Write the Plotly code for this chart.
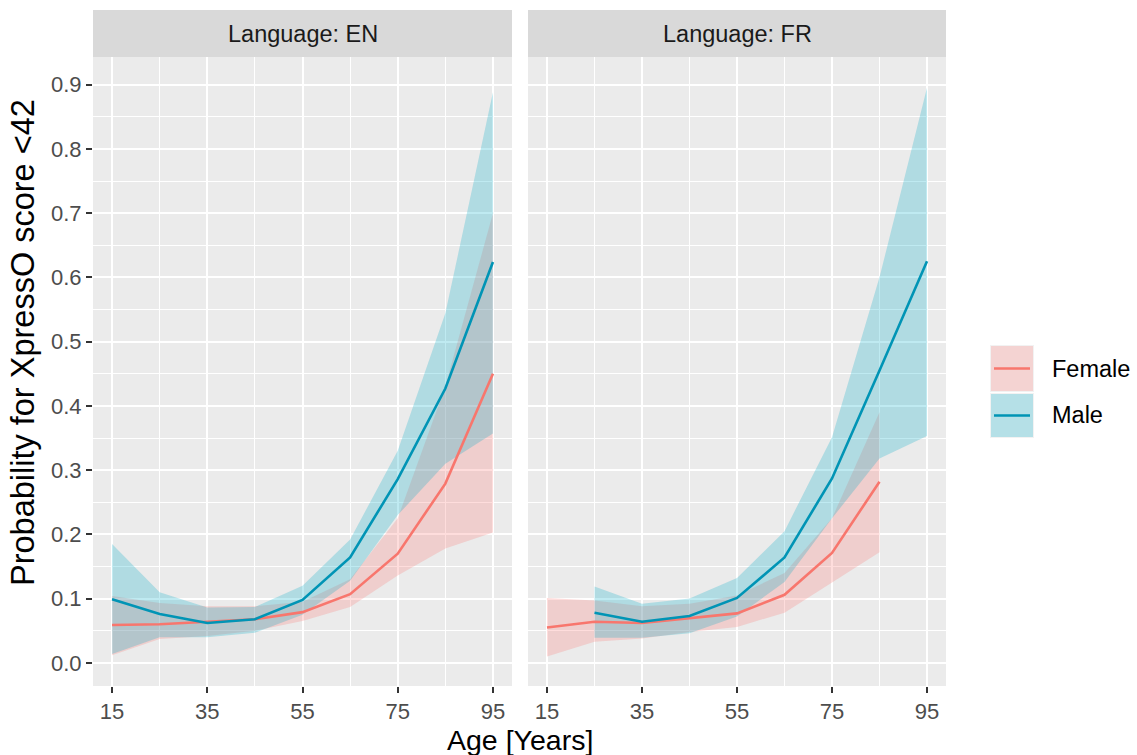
import plotly.graph_objects as go

W, H = 1137, 755

# ---------------- data ----------------
ages_en = [15, 25, 35, 45, 55, 65, 75, 85, 95]
en_female_fit = [0.059, 0.060, 0.064, 0.068, 0.079, 0.107, 0.170, 0.279, 0.450]
en_female_lo = [0.012, 0.037, 0.042, 0.050, 0.065, 0.087, 0.136, 0.178, 0.203]
en_female_hi = [0.104, 0.093, 0.088, 0.088, 0.095, 0.130, 0.225, 0.430, 0.700]
en_male_fit = [0.099, 0.076, 0.062, 0.068, 0.098, 0.164, 0.286, 0.427, 0.624]
en_male_lo = [0.014, 0.040, 0.040, 0.047, 0.075, 0.128, 0.230, 0.310, 0.357]
en_male_hi = [0.185, 0.110, 0.086, 0.087, 0.120, 0.192, 0.330, 0.544, 0.888]

ages_fr_female = [15, 25, 35, 45, 55, 65, 75, 85]
fr_female_fit = [0.055, 0.064, 0.062, 0.069, 0.077, 0.106, 0.171, 0.282]
fr_female_lo = [0.010, 0.033, 0.038, 0.048, 0.056, 0.078, 0.125, 0.172]
fr_female_hi = [0.101, 0.097, 0.088, 0.092, 0.105, 0.140, 0.225, 0.390]
ages_fr_male = [25, 35, 45, 55, 65, 75, 85, 95]
fr_male_fit = [0.078, 0.064, 0.073, 0.101, 0.164, 0.287, 0.455, 0.625]
fr_male_lo = [0.039, 0.039, 0.046, 0.072, 0.126, 0.225, 0.318, 0.353]
fr_male_hi = [0.119, 0.092, 0.100, 0.132, 0.205, 0.351, 0.600, 0.895]

panels = ["Language: EN", "Language: FR"]
sexes = ["Female", "Male"]
x_ticks = [15, 35, 55, 75, 95]
y_ticks = [0.0, 0.1, 0.2, 0.3, 0.4, 0.5, 0.6, 0.7, 0.8, 0.9]
x_title = "Age [Years]"
y_title = "Probability for XpressO score <42"

# ---------------- styles ----------------
FONT = "Liberation Sans, Arial, Helvetica, sans-serif"
PANEL_BG = "#EBEBEB"
STRIP_BG = "#D9D9D9"
FILL = {"Female": "rgba(250,120,115,0.25)", "Male": "rgba(0,172,200,0.25)"}
LINE = {"Female": "#F8766D", "Male": "#0094B5"}
TICK_FS = 22
STRIP_FS = 23.5
LEG_FS = 23.5
XTITLE_FS = 28.5
YTITLE_FS = 32.5

def px_x(p):
    return p / W

def px_y(p):
    return 1 - p / H

# panel geometry (pixels)
P_TOP, P_BOT = 57, 686
S_TOP = 10
LEFT = (93, 512)
RIGHT = (528, 946)

fig = go.Figure()

series = [
    ("x", "y", ages_en, en_female_fit, en_female_lo, en_female_hi, "Female"),
    ("x", "y", ages_en, en_male_fit, en_male_lo, en_male_hi, "Male"),
    ("x2", "y2", ages_fr_female, fr_female_fit, fr_female_lo, fr_female_hi, "Female"),
    ("x2", "y2", ages_fr_male, fr_male_fit, fr_male_lo, fr_male_hi, "Male"),
]

# ribbons first
for xa, ya, ages, fit, lo, hi, sex in series:
    fig.add_trace(go.Scatter(
        x=list(ages) + list(ages)[::-1],
        y=list(hi) + list(lo)[::-1],
        fill="toself", fillcolor=FILL[sex], mode="lines",
        line=dict(width=0, color="rgba(0,0,0,0)"),
        xaxis=xa, yaxis=ya, showlegend=False, hoverinfo="skip", name=sex,
    ))
# lines on top
for xa, ya, ages, fit, lo, hi, sex in series:
    fig.add_trace(go.Scatter(
        x=ages, y=fit, mode="lines",
        line=dict(width=2.6, color=LINE[sex]),
        xaxis=xa, yaxis=ya, showlegend=False, name=sex,
    ))

xaxis_common = dict(
    range=[11, 99], tickmode="array", tickvals=x_ticks,
    showgrid=True, gridcolor="white", gridwidth=2,
    minor=dict(tickmode="array", tickvals=[25, 45, 65, 85], showgrid=True,
               gridcolor="white", gridwidth=1, ticklen=0),
    ticks="outside", ticklen=6, tickwidth=1.8, tickcolor="#333333",
    tickfont=dict(family=FONT, size=TICK_FS, color="#4D4D4D"),
    zeroline=False, showline=False, fixedrange=True,
)
yaxis_common = dict(
    range=[-0.036, 0.943], tickmode="array", tickvals=y_ticks,
    ticktext=[f"{v:.1f}" for v in y_ticks],
    showgrid=True, gridcolor="white", gridwidth=2,
    minor=dict(tickmode="array", tickvals=[v + 0.05 for v in y_ticks],
               showgrid=True, gridcolor="white", gridwidth=1, ticklen=0),
    zeroline=False, showline=False, fixedrange=True,
    domain=[px_y(P_BOT), px_y(P_TOP)],
)

fig.update_layout(
    width=W, height=H,
    margin=dict(l=0, r=0, t=0, b=0),
    paper_bgcolor="white", plot_bgcolor=PANEL_BG,
    showlegend=False,
    xaxis=dict(**xaxis_common, domain=[px_x(LEFT[0]), px_x(LEFT[1])], anchor="y"),
    xaxis2=dict(**xaxis_common, domain=[px_x(RIGHT[0]), px_x(RIGHT[1])], anchor="y2"),
    yaxis=dict(**yaxis_common, anchor="x", ticks="outside", ticklen=6, tickwidth=1.8,
               tickcolor="#333333",
               tickfont=dict(family=FONT, size=TICK_FS, color="#4D4D4D")),
    yaxis2=dict(**yaxis_common, anchor="x2", showticklabels=False, ticks=""),
)

shapes = []
annotations = []
# strips
for (x0, x1), label in zip([LEFT, RIGHT], panels):
    shapes.append(dict(type="rect", xref="paper", yref="paper",
                       x0=px_x(x0), x1=px_x(x1), y0=px_y(P_TOP), y1=px_y(S_TOP),
                       fillcolor=STRIP_BG, line=dict(width=0), layer="below"))
    annotations.append(dict(xref="paper", yref="paper",
                            x=px_x((x0 + x1) / 2), y=px_y((P_TOP + S_TOP) / 2),
                            text=label, showarrow=False, xanchor="center", yanchor="middle",
                            font=dict(family=FONT, size=STRIP_FS, color="#1A1A1A")))

# axis titles
annotations.append(dict(xref="paper", yref="paper", x=px_x((LEFT[0] + RIGHT[1]) / 2),
                        y=0, text=x_title, showarrow=False,
                        xanchor="center", yanchor="bottom", yshift=-3,
                        font=dict(family=FONT, size=XTITLE_FS, color="black")))
annotations.append(dict(xref="paper", yref="paper", x=px_x(23), y=px_y(343),
                        text=y_title, textangle=-90, showarrow=False,
                        xanchor="center", yanchor="middle",
                        font=dict(family=FONT, size=YTITLE_FS, color="black")))

# legend (manual)
key_x0, key_x1 = 990, 1034
key_rows = [(345, 392), (393, 438)]
for sex, (ky0, ky1) in zip(sexes, key_rows):
    shapes.append(dict(type="rect", xref="paper", yref="paper",
                       x0=px_x(key_x0), x1=px_x(key_x1), y0=px_y(ky1), y1=px_y(ky0),
                       fillcolor="#F2F2F2", line=dict(width=0)))
    shapes.append(dict(type="rect", xref="paper", yref="paper",
                       x0=px_x(key_x0 + 1), x1=px_x(key_x1 - 1), y0=px_y(ky1 - 1), y1=px_y(ky0 + 1),
                       fillcolor=FILL[sex], line=dict(width=0)))
    yc = (ky0 + ky1) / 2
    shapes.append(dict(type="line", xref="paper", yref="paper",
                       x0=px_x(key_x0 + 4), x1=px_x(key_x1 - 4), y0=px_y(yc), y1=px_y(yc),
                       line=dict(color=LINE[sex], width=2.6)))
    annotations.append(dict(xref="paper", yref="paper", x=px_x(1050), y=px_y(yc),
                            text=sex, showarrow=False, xanchor="left", yanchor="middle",
                            font=dict(family=FONT, size=LEG_FS, color="black")))

fig.update_layout(shapes=shapes, annotations=annotations)
fig.write_html("out.html")
